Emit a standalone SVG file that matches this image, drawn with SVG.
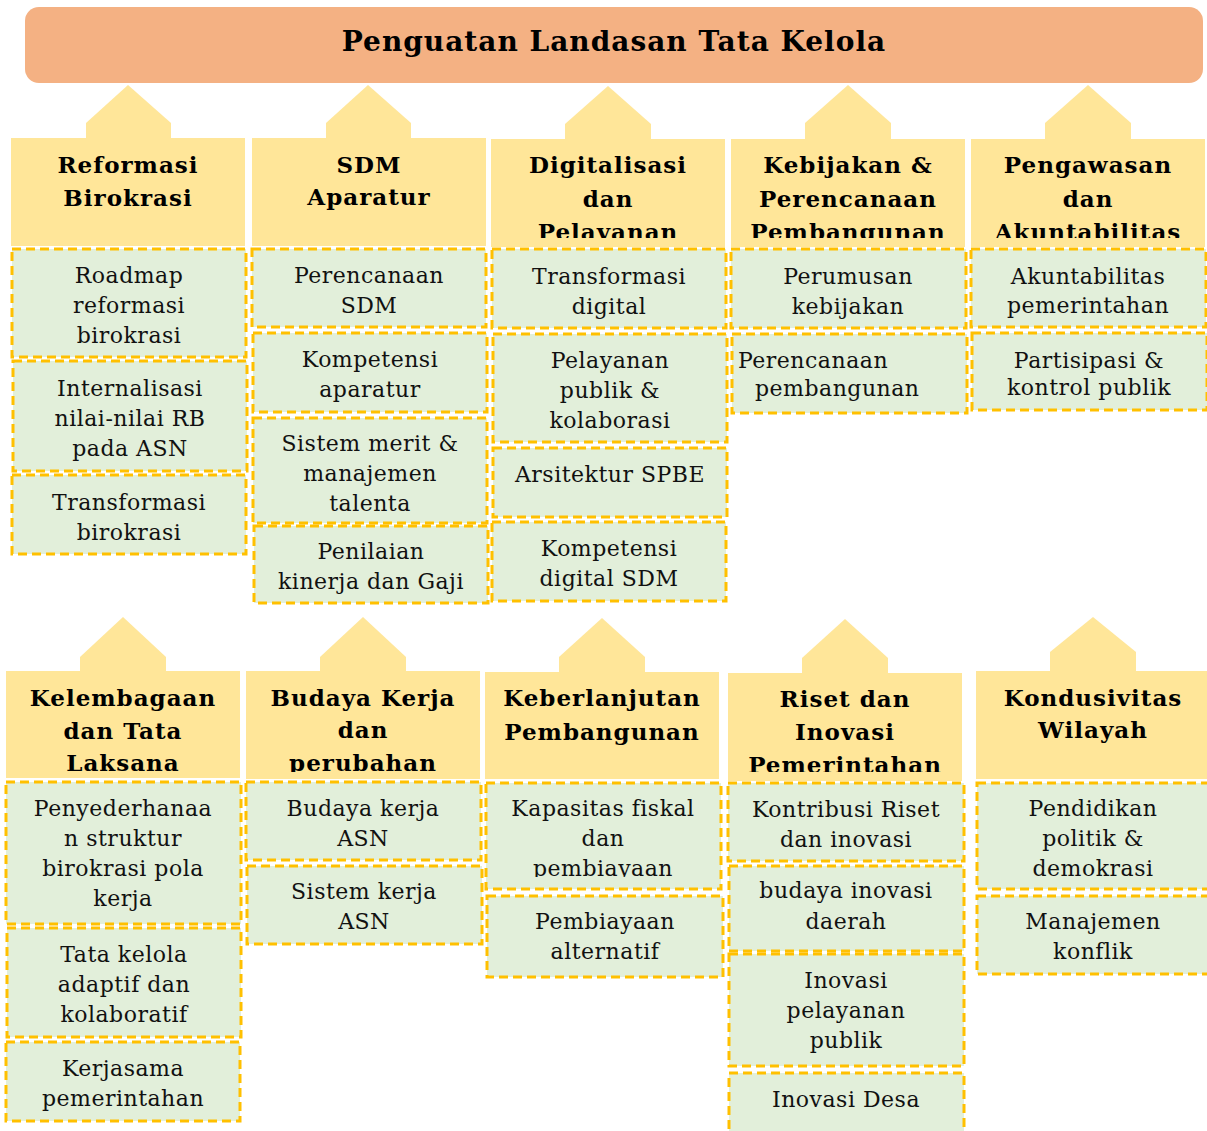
<svg xmlns="http://www.w3.org/2000/svg" width="1207" height="1131" viewBox="0 0 1207 1131">
<defs>
<style>
.hdr{fill:#FFE699}
.box{fill:#E2EFDA;stroke:#FFC000;stroke-width:3;stroke-dasharray:9 5}
.ht{font-family:"DejaVu Serif","Liberation Serif",serif;font-weight:bold;font-size:23px;text-anchor:middle;fill:#000;letter-spacing:1px}
.bt{font-family:"DejaVu Serif","Liberation Serif",serif;font-size:22px;text-anchor:middle;fill:#111;letter-spacing:0.5px}
.tt{font-family:"DejaVu Serif","Liberation Serif",serif;font-weight:bold;font-size:28px;text-anchor:middle;fill:#000;letter-spacing:1px}
</style>
<clipPath id="c1"><rect x="0" y="138" width="1207" height="100"/></clipPath>
<clipPath id="c2"><rect x="0" y="671" width="1207" height="101"/></clipPath>
<clipPath id="c3"><rect x="486" y="783" width="236" height="94"/></clipPath>
</defs>
<rect width="1207" height="1131" fill="#fff"/>

<g id="title">
<rect x="25" y="7" width="1178" height="76" rx="14" fill="#F4B183"/>
<text class="tt" x="614" y="51">Penguatan Landasan Tata Kelola</text>
</g>

<g id="connectors">
<polygon class="hdr" points="86,140 86,123 128,85 171,123 171,140"/>
<polygon class="hdr" points="326,140 326,123 368,85 411,123 411,140"/>
<polygon class="hdr" points="565,140 565,124 608,86 651,124 651,140"/>
<polygon class="hdr" points="805,140 805,123 848,85 891,123 891,140"/>
<polygon class="hdr" points="1045,140 1045,123 1088,85 1131,123 1131,140"/>
<polygon class="hdr" points="80,673 80,657 123,617 166,657 166,673"/>
<polygon class="hdr" points="320,673 320,657 363,617 406,657 406,673"/>
<polygon class="hdr" points="559,674 559,657 602,618 645,657 645,674"/>
<polygon class="hdr" points="802,675 802,658 845,619 888,658 888,675"/>
<polygon class="hdr" points="1050,673 1050,652 1093,617 1136,652 1136,673"/>
</g>

<!-- Row 1 -->
<g id="h-reformasi">
<rect class="hdr" x="11" y="138" width="234" height="108"/>
<g clip-path="url(#c1)"><text class="ht" x="128" y="173">Reformasi</text><text class="ht" x="128" y="206">Birokrasi</text></g>
</g>
<g id="h-sdm">
<rect class="hdr" x="252" y="138" width="234" height="108"/>
<g clip-path="url(#c1)"><text class="ht" x="369" y="173">SDM</text><text class="ht" x="369" y="205">Aparatur</text></g>
</g>
<g id="h-digital">
<rect class="hdr" x="491" y="139" width="234" height="108"/>
<g clip-path="url(#c1)"><text class="ht" x="608" y="173">Digitalisasi</text><text class="ht" x="608" y="207">dan</text><text class="ht" x="608" y="240">Pelayanan</text></g>
</g>
<g id="h-kebijakan">
<rect class="hdr" x="731" y="139" width="234" height="108"/>
<g clip-path="url(#c1)"><text class="ht" x="848" y="173">Kebijakan &amp;</text><text class="ht" x="848" y="207">Perencanaan</text><text class="ht" x="848" y="240">Pembangunan</text></g>
</g>
<g id="h-pengawasan">
<rect class="hdr" x="971" y="139" width="234" height="108"/>
<g clip-path="url(#c1)"><text class="ht" x="1088" y="173">Pengawasan</text><text class="ht" x="1088" y="207">dan</text><text class="ht" x="1088" y="240">Akuntabilitas</text></g>
</g>

<g id="b-roadmap"><rect class="box" x="12" y="249" width="234" height="108"/><text class="bt" x="129" y="283">Roadmap</text><text class="bt" x="129" y="313">reformasi</text><text class="bt" x="129" y="343">birokrasi</text></g>
<g id="b-internalisasi"><rect class="box" x="13" y="361" width="234" height="110"/><text class="bt" x="130" y="396">Internalisasi</text><text class="bt" x="130" y="426">nilai-nilai RB</text><text class="bt" x="130" y="456">pada ASN</text></g>
<g id="b-transformasi-birokrasi"><rect class="box" x="12" y="475" width="234" height="79"/><text class="bt" x="129" y="510">Transformasi</text><text class="bt" x="129" y="540">birokrasi</text></g>

<g id="b-perencanaan-sdm"><rect class="box" x="252" y="249" width="234" height="78"/><text class="bt" x="369" y="283">Perencanaan</text><text class="bt" x="369" y="313">SDM</text></g>
<g id="b-kompetensi-aparatur"><rect class="box" x="253" y="333" width="234" height="79"/><text class="bt" x="370" y="367">Kompetensi</text><text class="bt" x="370" y="397">aparatur</text></g>
<g id="b-sistem-merit"><rect class="box" x="253" y="418" width="234" height="105"/><text class="bt" x="370" y="451">Sistem merit &amp;</text><text class="bt" x="370" y="481">manajemen</text><text class="bt" x="370" y="511">talenta</text></g>
<g id="b-penilaian"><rect class="box" x="254" y="526" width="234" height="77"/><text class="bt" x="371" y="559">Penilaian</text><text class="bt" x="371" y="589">kinerja dan Gaji</text></g>

<g id="b-transformasi-digital"><rect class="box" x="492" y="249" width="234" height="79"/><text class="bt" x="609" y="284">Transformasi</text><text class="bt" x="609" y="314">digital</text></g>
<g id="b-pelayanan-publik"><rect class="box" x="493" y="334" width="234" height="108"/><text class="bt" x="610" y="368">Pelayanan</text><text class="bt" x="610" y="398">publik &amp;</text><text class="bt" x="610" y="428">kolaborasi</text></g>
<g id="b-arsitektur"><rect class="box" x="493" y="448" width="234" height="69"/><text class="bt" x="610" y="482">Arsitektur SPBE</text></g>
<g id="b-kompetensi-digital"><rect class="box" x="492" y="522" width="234" height="79"/><text class="bt" x="609" y="556">Kompetensi</text><text class="bt" x="609" y="586">digital SDM</text></g>

<g id="b-perumusan"><rect class="box" x="731" y="249" width="235" height="79"/><text class="bt" x="848" y="284">Perumusan</text><text class="bt" x="848" y="314">kebijakan</text></g>
<g id="b-perencanaan-pemb"><rect class="box" x="732" y="334" width="235" height="79"/><text class="bt" x="738" y="368" style="text-anchor:start">Perencanaan</text><text class="bt" x="755" y="396" style="text-anchor:start">pembangunan</text></g>

<g id="b-akuntabilitas"><rect class="box" x="971" y="249" width="235" height="78"/><text class="bt" x="1088" y="284">Akuntabilitas</text><text class="bt" x="1088" y="313">pemerintahan</text></g>
<g id="b-partisipasi"><rect class="box" x="972" y="333" width="235" height="77"/><text class="bt" x="1089" y="368">Partisipasi &amp;</text><text class="bt" x="1089" y="395">kontrol publik</text></g>

<!-- Row 2 -->
<g id="h-kelembagaan">
<rect class="hdr" x="6" y="671" width="234" height="107"/>
<g clip-path="url(#c2)"><text class="ht" x="123" y="706">Kelembagaan</text><text class="ht" x="123" y="739">dan Tata</text><text class="ht" x="123" y="771">Laksana</text></g>
</g>
<g id="h-budaya">
<rect class="hdr" x="246" y="671" width="234" height="108"/>
<g clip-path="url(#c2)"><text class="ht" x="363" y="706">Budaya Kerja</text><text class="ht" x="363" y="738">dan</text><text class="ht" x="363" y="771">perubahan</text></g>
</g>
<g id="h-keberlanjutan">
<rect class="hdr" x="485" y="672" width="234" height="107"/>
<g clip-path="url(#c2)"><text class="ht" x="602" y="706">Keberlanjutan</text><text class="ht" x="602" y="740">Pembangunan</text></g>
</g>
<g id="h-riset">
<rect class="hdr" x="728" y="673" width="234" height="108"/>
<g clip-path="url(#c2)"><text class="ht" x="845" y="707">Riset dan</text><text class="ht" x="845" y="740">Inovasi</text><text class="ht" x="845" y="773">Pemerintahan</text></g>
</g>
<g id="h-kondusivitas">
<rect class="hdr" x="976" y="671" width="231" height="108"/>
<g clip-path="url(#c2)"><text class="ht" x="1093" y="706">Kondusivitas</text><text class="ht" x="1093" y="738">Wilayah</text></g>
</g>

<g id="b-penyederhanaan"><rect class="box" x="6" y="782" width="235" height="142"/><text class="bt" x="123" y="816">Penyederhanaa</text><text class="bt" x="123" y="846">n struktur</text><text class="bt" x="123" y="876">birokrasi pola</text><text class="bt" x="123" y="906">kerja</text></g>
<g id="b-tata-kelola"><rect class="box" x="7" y="928" width="234" height="109"/><text class="bt" x="124" y="962">Tata kelola</text><text class="bt" x="124" y="992">adaptif dan</text><text class="bt" x="124" y="1022">kolaboratif</text></g>
<g id="b-kerjasama"><rect class="box" x="6" y="1042" width="234" height="79"/><text class="bt" x="123" y="1076">Kerjasama</text><text class="bt" x="123" y="1106">pemerintahan</text></g>

<g id="b-budaya-kerja"><rect class="box" x="246" y="782" width="235" height="78"/><text class="bt" x="363" y="816">Budaya kerja</text><text class="bt" x="363" y="846">ASN</text></g>
<g id="b-sistem-kerja"><rect class="box" x="247" y="866" width="235" height="78"/><text class="bt" x="364" y="899">Sistem kerja</text><text class="bt" x="364" y="929">ASN</text></g>

<g id="b-kapasitas"><rect class="box" x="486" y="783" width="235" height="106"/><g clip-path="url(#c3)"><text class="bt" x="603" y="816">Kapasitas fiskal</text><text class="bt" x="603" y="846">dan</text><text class="bt" x="603" y="876">pembiayaan</text></g></g>
<g id="b-pembiayaan-alt"><rect class="box" x="487" y="896" width="236" height="81"/><text class="bt" x="605" y="929">Pembiayaan</text><text class="bt" x="605" y="959">alternatif</text></g>

<g id="b-kontribusi"><rect class="box" x="728" y="783" width="236" height="78"/><text class="bt" x="846" y="817">Kontribusi Riset</text><text class="bt" x="846" y="847">dan inovasi</text></g>
<g id="b-budaya-inovasi"><rect class="box" x="729" y="866" width="235" height="85"/><text class="bt" x="846" y="898">budaya inovasi</text><text class="bt" x="846" y="929">daerah</text></g>
<g id="b-inovasi-pelayanan"><rect class="box" x="729" y="954" width="235" height="112"/><text class="bt" x="846" y="988">Inovasi</text><text class="bt" x="846" y="1018">pelayanan</text><text class="bt" x="846" y="1048">publik</text></g>
<g id="b-inovasi-desa"><rect class="box" x="729" y="1073" width="235" height="80"/><text class="bt" x="846" y="1107">Inovasi Desa</text></g>

<g id="b-pendidikan"><rect class="box" x="977" y="783" width="232" height="106"/><text class="bt" x="1093" y="816">Pendidikan</text><text class="bt" x="1093" y="846">politik &amp;</text><text class="bt" x="1093" y="876">demokrasi</text></g>
<g id="b-manajemen-konflik"><rect class="box" x="977" y="896" width="232" height="78"/><text class="bt" x="1093" y="929">Manajemen</text><text class="bt" x="1093" y="959">konflik</text></g>
</svg>
